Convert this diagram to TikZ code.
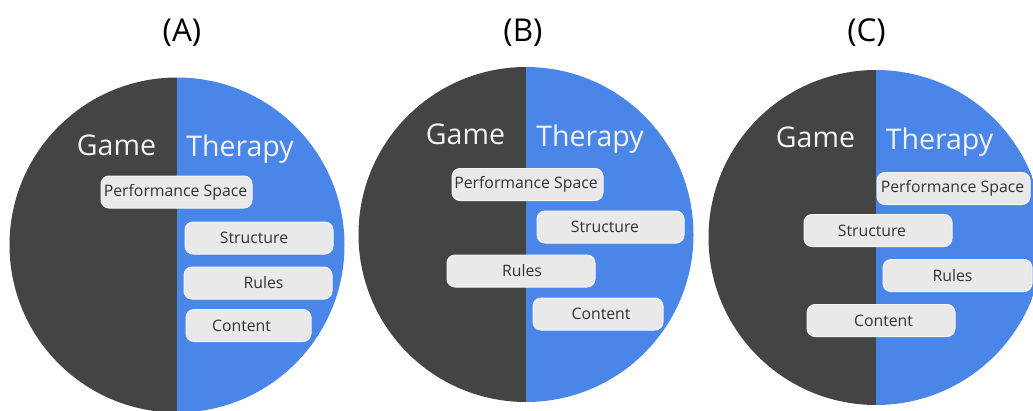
\documentclass[tikz,border=0pt]{standalone}
\usepackage{fontspec}
\setmainfont{Open Sans}
\definecolor{gamecol}{HTML}{444444}
\definecolor{thercol}{HTML}{4A86E8}
\definecolor{bubfill}{HTML}{E9E9E9}
\definecolor{bubline}{HTML}{F5F5F5}
\definecolor{bubtext}{HTML}{333333}
\definecolor{headtext}{HTML}{F2F2F2}
\newcommand\bt[2]{\hbox to 0pt{\hss\kern#1pt #2\hss}}
\tikzset{
  bubble/.style={rectangle, rounded corners=8pt, fill=bubfill, draw=bubline, line width=1pt,
    minimum height=32pt, minimum width=#1, inner sep=0pt, text=bubtext,
    font=\fontsize{15.8}{19}\selectfont},
  head/.style={anchor=base, text=headtext, inner sep=0pt, font=\fontsize{28.5}{32}\selectfont},
  title/.style={anchor=base, text=black, inner sep=0pt, font=\fontsize{31.5}{35}\selectfont},
}
\begin{document}
\begin{tikzpicture}[x=1pt,y=-1pt]
\useasboundingbox (0,0) rectangle (1033,410);
\clip (0,0) rectangle (1033,410);
% circles
\foreach \cx/\cy in {177/245, 526/234.5, 876/237.5}{
  \begin{scope}
    \clip (\cx,\cy) circle (167.5);
    \fill[gamecol] (\cx-170,\cy-170) rectangle (\cx,\cy+170);
    \fill[thercol] (\cx,\cy-170) rectangle (\cx+170,\cy+170);
  \end{scope}
}
% titles
\node[title] (tA) at (182,41) {(A)};
\node[title] (tB) at (523,41) {(B)};
\node[title] (tC) at (866.5,41) {(C)};
% headings
\node[head] (gA) at (116.5,155) {Game};
\node[head] (hA) at (240,156) {Therapy};
\node[head] (gB) at (465.5,144) {Game};
\node[head] (hB) at (590,146) {Therapy};
\node[head] (gC) at (815.5,147) {Game};
\node[head] (hC) at (939.5,149) {Therapy};
% bubbles A
\node[bubble=151pt] (psA) at (176.5,192) {\bt{-2}{Performance Space}};
\node[bubble=148pt] (stA) at (259,238) {\bt{-10}{Structure}};
\node[bubble=148pt] (ruA) at (258,283) {\bt{11}{Rules}};
\node[bubble=125pt] (coA) at (248.5,325.5) {\bt{-14}{Content}};
% bubbles B
\node[bubble=151pt] (psB) at (527.5,184.5) {\bt{-3}{Performance Space}};
\node[bubble=147pt] (stB) at (610.5,227) {\bt{-11}{Structure}};
\node[bubble=148pt] (ruB) at (521,271) {\bt{2}{Rules}};
\node[bubble=130pt] (coB) at (598,314) {\bt{6}{Content}};
% bubbles C
\node[bubble=153pt] (psC) at (953.5,188.5) {\bt{-2}{Performance Space}};
\node[bubble=148pt] (stC) at (878,230.5) {\bt{-12}{Structure}};
\node[bubble=149pt] (ruC) at (957.5,275.5) {\bt{-10}{Rules}};
\node[bubble=148pt] (coC) at (881,320.5) {\bt{5}{Content}};
\end{tikzpicture}
\end{document}
